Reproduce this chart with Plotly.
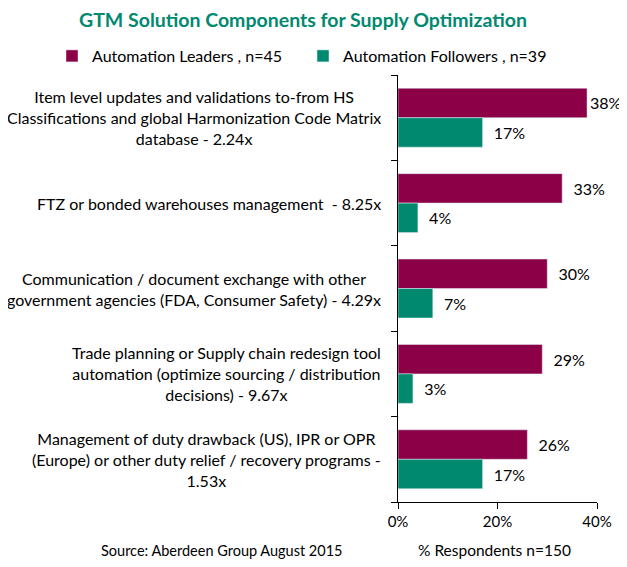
import plotly.graph_objects as go

categories = [
    "Item level updates and validations to-from HS<br>Classifications and global Harmonization Code Matrix<br>database - 2.24x",
    "FTZ or bonded warehouses management  - 8.25x",
    "Communication / document exchange with other<br>government agencies (FDA, Consumer Safety) - 4.29x",
    "Trade planning or Supply chain redesign tool<br>automation (optimize sourcing / distribution<br>decisions) - 9.67x",
    "Management of duty drawback (US), IPR or OPR<br>(Europe) or other duty relief / recovery programs -<br>1.53x",
]
leaders = [38, 33, 30, 29, 26]
followers = [17, 4, 7, 3, 17]
x_ticks = [0, 20, 40]
x_tick_text = ["0%", "20%", "40%"]

FONT = "Lato"
MAROON = "#8B0047"
GREEN = "#00896F"

# the page body adds 8px, so the figure is a bit smaller than the window
W, H = 619, 559
L, R, T, B = 390, 30, 67, 65
PW, PH = W - L - R, H - T - B


def labels(values):
    # small gap before the label, except where the bar runs up to the edge
    return [("\u00a0\u00a0" if v < 36 else "") + "%d%%" % v for v in values]


y_pos = list(range(len(categories)))

trace1 = go.Bar(y=y_pos, x=leaders, orientation="h",
                name="Automation Leaders , n=45", marker_color=MAROON,
                text=labels(leaders), textposition="outside",
                cliponaxis=False, textfont=dict(size=16, color="black"))
trace2 = go.Bar(y=y_pos, x=followers, orientation="h",
                name="Automation Followers , n=39", marker_color=GREEN,
                text=labels(followers), textposition="outside",
                cliponaxis=False, textfont=dict(size=16, color="black"))

layout = go.Layout(
    width=W, height=H,
    margin=dict(l=L, r=R, t=T, b=B, autoexpand=False),
    font=dict(family=FONT, size=15, color="black"),
    plot_bgcolor="white", paper_bgcolor="white",
    barmode="group", bargap=0.31, bargroupgap=0,
    title=dict(text="<b>GTM Solution Components for Supply Optimization</b>",
               font=dict(size=19.5, color=GREEN, family=FONT),
               xref="container", x=295 / W, xanchor="center",
               yref="container", y=1 - 12 / H, yanchor="middle"),
    showlegend=True,
    legend=dict(orientation="h", x=(44 - L) / PW, xanchor="left",
                y=(H - B - 48) / PH, yanchor="middle",
                font=dict(size=16), entrywidth=206, entrywidthmode="pixels",
                itemwidth=30, traceorder="normal"),
    xaxis=dict(range=[0, 40], tickvals=x_ticks, ticktext=x_tick_text, showgrid=False,
               showline=True, linecolor="black", linewidth=1, ticks="outside",
               ticklen=6, tickcolor="black", zeroline=False, automargin=False),
    yaxis=dict(range=[len(categories) - 0.5, -0.5], showticklabels=False,
               showgrid=False, showline=True, linecolor="black", linewidth=1,
               tickvals=[i - 0.5 for i in range(len(categories) + 1)],
               ticks="outside", ticklen=6, tickcolor="black", zeroline=False,
               automargin=False),
)

fig = go.Figure(data=[trace1, trace2], layout=layout)

for i, label in enumerate(categories):
    fig.add_annotation(text=label, x=0, xref="paper", y=i, yref="y",
                       xanchor="right", align="center", xshift=-15,
                       showarrow=False, font=dict(size=16))

fig.add_annotation(text="Source: Aberdeen Group August 2015",
                   x=(214 - L) / PW, y=(H - B - 542) / PH, xref="paper", yref="paper",
                   xanchor="center", yanchor="middle", showarrow=False,
                   font=dict(size=14.5))
fig.add_annotation(text="% Respondents n=150",
                   x=(486 - L) / PW, y=(H - B - 542) / PH, xref="paper", yref="paper",
                   xanchor="center", yanchor="middle", showarrow=False,
                   font=dict(size=15.5))

fig.write_html("out.html")
